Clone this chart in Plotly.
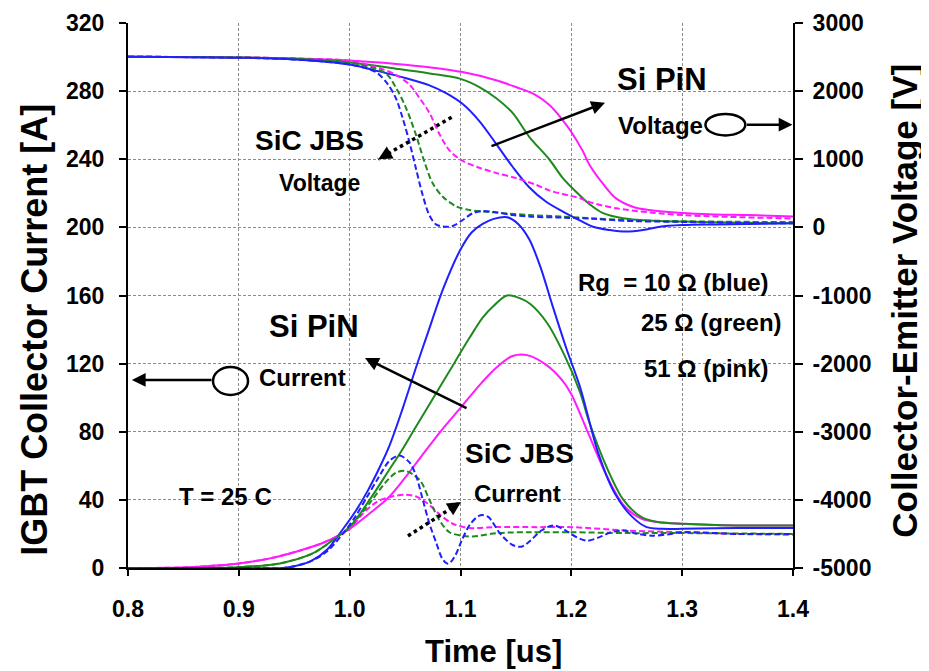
import plotly.graph_objects as go

# ---------------- data ----------------
# IGBT collector current [A] (left axis) - Si PiN (solid)
t_i_blue = [0.80, 0.90, 0.94, 0.95, 0.965, 0.98, 0.993, 1.005, 1.016, 1.027, 1.036, 1.048, 1.06, 1.07, 1.085, 1.10, 1.11, 1.12, 1.13, 1.142, 1.152, 1.162, 1.172, 1.184, 1.196, 1.208, 1.224, 1.239, 1.255, 1.268, 1.282, 1.30, 1.35, 1.40]
i_blue = [0, 0, 0, 1, 4, 11, 22, 33, 45, 59, 72, 94, 118, 137, 165, 187, 197, 202, 205, 206, 202, 193, 177, 152, 128, 106, 68, 44, 30, 24, 23, 23, 23.5, 23.5]

t_i_green = [0.80, 0.90, 0.937, 0.967, 0.988, 1.00, 1.018, 1.036, 1.046, 1.058, 1.07, 1.083, 1.095, 1.108, 1.12, 1.13, 1.142, 1.155, 1.163, 1.178, 1.193, 1.208, 1.216, 1.232, 1.247, 1.263, 1.278, 1.30, 1.35, 1.40]
i_green = [0, 0.5, 2.7, 8.7, 18, 24, 40, 58, 68, 81, 94, 108, 121, 135, 147, 154, 160, 158, 155, 144, 126, 103, 86, 59, 40, 30, 27, 26, 25, 25]

t_i_pink = [0.80, 0.85, 0.87, 0.90, 0.927, 0.954, 0.975, 0.988, 1.00, 1.018, 1.036, 1.05, 1.064, 1.083, 1.10, 1.118, 1.133, 1.147, 1.16, 1.178, 1.192, 1.20, 1.216, 1.232, 1.247, 1.263, 1.278, 1.30, 1.35, 1.40]
i_pink = [0, 0.3, 1, 2.7, 5.5, 10, 14.5, 18.4, 23, 32, 42, 53, 65, 81, 94, 108, 118, 124.5, 125, 119, 110, 102, 78, 54, 37, 29, 27, 26, 25, 25]

# SiC JBS (dashed)
t_i_blue_d = [0.80, 0.90, 0.94, 0.95, 0.965, 0.98, 0.995, 1.005, 1.015, 1.025, 1.036, 1.045, 1.054, 1.060, 1.066, 1.072, 1.078, 1.084, 1.089, 1.095, 1.101, 1.109, 1.118, 1.125, 1.136, 1.147, 1.155, 1.163, 1.173, 1.184, 1.195, 1.205, 1.214, 1.225, 1.236, 1.247, 1.26, 1.274, 1.29, 1.30, 1.35, 1.40]
i_blue_d = [0, 0, 0, 1, 4, 10, 21, 30, 41, 52, 63, 66, 62, 54, 40, 26, 15, 5, 2.5, 7, 16, 26, 31, 30, 20, 13.5, 12.5, 16, 22, 25, 22, 18, 16, 18, 21, 22, 20, 19, 20, 21, 20, 20]

t_i_green_d = [0.80, 0.90, 0.937, 0.967, 0.988, 1.00, 1.018, 1.032, 1.042, 1.05, 1.057, 1.064, 1.072, 1.081, 1.09, 1.101, 1.111, 1.133, 1.163, 1.20, 1.25, 1.30, 1.40]
i_green_d = [0, 0.5, 2.7, 8.7, 18, 24, 38, 50, 56, 57, 55, 51, 40, 28, 21, 19, 18.5, 20.5, 21, 21, 20.5, 20.5, 20]

t_i_pink_d = [0.80, 0.85, 0.87, 0.90, 0.927, 0.954, 0.975, 0.988, 1.00, 1.012, 1.025, 1.038, 1.05, 1.06, 1.07, 1.082, 1.093, 1.108, 1.13, 1.17, 1.20, 1.25, 1.30, 1.35, 1.40]
i_pink_d = [0, 0.3, 1, 2.7, 5.5, 10, 14.5, 18.4, 23, 32, 39, 42, 43, 42, 38, 31, 26, 23.5, 24, 24, 24, 22, 21, 20, 19.5]

# Collector-emitter voltage [V] (right axis) - Si PiN (solid)
t_v_blue = [0.80, 0.90, 0.95, 1.00, 1.0265, 1.051, 1.072, 1.087, 1.102, 1.117, 1.132, 1.147, 1.162, 1.177, 1.192, 1.2045, 1.2195, 1.2346, 1.2496, 1.2647, 1.2797, 1.30, 1.33, 1.40]
v_blue = [2505, 2490, 2465, 2390, 2290, 2190, 2085, 1970, 1810, 1560, 1230, 890, 590, 380, 235, 130, 10, -39, -62, -39, 10, 34, 44, 59]

t_v_green = [0.80, 0.90, 0.95, 1.00, 1.042, 1.072, 1.10, 1.117, 1.132, 1.147, 1.162, 1.18, 1.1925, 1.2045, 1.2165, 1.2286, 1.2466, 1.27, 1.30, 1.33, 1.40]
v_green = [2505, 2495, 2475, 2420, 2330, 2260, 2180, 2060, 1900, 1680, 1330, 1000, 720, 520, 340, 210, 135, 100, 85, 75, 60]

t_v_pink = [0.80, 0.90, 0.95, 1.00, 1.042, 1.072, 1.102, 1.132, 1.15, 1.166, 1.18, 1.19, 1.20, 1.21, 1.217, 1.229, 1.24, 1.256, 1.27, 1.30, 1.33, 1.36, 1.40]
v_pink = [2505, 2495, 2480, 2450, 2400, 2350, 2280, 2160, 2060, 1960, 1800, 1620, 1400, 1130, 900, 630, 430, 300, 255, 210, 190, 180, 160]

# SiC JBS (dashed)
t_v_blue_d = [0.80, 0.90, 0.95, 1.00, 1.0235, 1.034, 1.0416, 1.0477, 1.0537, 1.0597, 1.0658, 1.0718, 1.0778, 1.0854, 1.093, 1.102, 1.111, 1.12, 1.132, 1.147, 1.162, 1.192, 1.22, 1.25, 1.30, 1.35, 1.40]
v_blue_d = [2505, 2490, 2465, 2390, 2280, 2110, 1900, 1610, 1266, 872, 478, 182, 44, 10, 20, 108, 207, 241, 222, 182, 158, 143, 125, 95, 80, 65, 60]

t_v_green_d = [0.80, 0.90, 0.95, 1.00, 1.0326, 1.0416, 1.0507, 1.0597, 1.0673, 1.0748, 1.084, 1.096, 1.108, 1.12, 1.132, 1.162, 1.192, 1.22, 1.25, 1.30, 1.35, 1.40]
v_green_d = [2505, 2495, 2475, 2420, 2260, 2054, 1759, 1365, 970, 650, 450, 310, 256, 232, 217, 182, 158, 132, 108, 90, 82, 78]

t_v_pink_d = [0.80, 0.90, 0.95, 1.00, 1.02, 1.03, 1.0416, 1.0537, 1.063, 1.072, 1.081, 1.09, 1.102, 1.117, 1.132, 1.15, 1.168, 1.1805, 1.192, 1.2075, 1.2165, 1.2406, 1.2707, 1.3008, 1.3308, 1.40]
v_pink_d = [2505, 2495, 2480, 2445, 2370, 2320, 2240, 2100, 1900, 1680, 1370, 1130, 975, 875, 800, 724, 626, 540, 490, 429, 370, 280, 220, 181, 160, 130]

x_ticks = [0.8, 0.9, 1.0, 1.1, 1.2, 1.3, 1.4]
x_tick_text = ["0.8", "0.9", "1.0", "1.1", "1.2", "1.3", "1.4"]
y_ticks = [0, 40, 80, 120, 160, 200, 240, 280, 320]
y2_ticks = [-5000, -4000, -3000, -2000, -1000, 0, 1000, 2000, 3000]
y2_tick_text = ["-5000", "-4000", "-3000", "-2000", "-1000", "0", "1000", "2000", "3000"]

# ---------------- style ----------------
BLUE = "#1f1fff"
GREEN = "#1e8a1e"
PINK = "#ff1aff"
FONT = "Liberation Sans, Arial, sans-serif"
DASH = "6px,3px"

fig = go.Figure()

def add(t, v, color, dashed, axis):
    fig.add_trace(go.Scatter(
        x=t, y=v, mode="lines", yaxis=axis, showlegend=False, hoverinfo="skip",
        line=dict(color=color, width=2, dash=DASH if dashed else "solid",
                  shape="spline", smoothing=0.9)))

# voltages (right axis)
add(t_v_pink, v_pink, PINK, False, "y2")
add(t_v_green, v_green, GREEN, False, "y2")
add(t_v_blue, v_blue, BLUE, False, "y2")
add(t_v_pink_d, v_pink_d, PINK, True, "y2")
add(t_v_green_d, v_green_d, GREEN, True, "y2")
add(t_v_blue_d, v_blue_d, BLUE, True, "y2")
# currents (left axis)
add(t_i_pink, i_pink, PINK, False, "y")
add(t_i_green, i_green, GREEN, False, "y")
add(t_i_blue, i_blue, BLUE, False, "y")
add(t_i_pink_d, i_pink_d, PINK, True, "y")
add(t_i_green_d, i_green_d, GREEN, True, "y")
add(t_i_blue_d, i_blue_d, BLUE, True, "y")

tickfont = dict(family=FONT, size=23, color="black", weight="bold")

# (the page adds an 8px body margin, so the plot box is set 8px up/left)
fig.update_layout(
    width=929, height=671,
    margin=dict(l=120, r=144, t=15, b=111, autoexpand=False),
    paper_bgcolor="white", plot_bgcolor="white",
    font=dict(family=FONT, color="black"),
    xaxis=dict(range=[0.8, 1.4], tickvals=x_ticks, ticktext=x_tick_text, automargin=False,
               showgrid=True, gridcolor="#8c8c8c", griddash="3px,2px", gridwidth=1,
               showline=True, linecolor="black", linewidth=2,
               ticks="outside", ticklen=6, tickcolor="black", tickwidth=1.5,
               tickfont=tickfont, ticklabelstandoff=13, zeroline=False),
    yaxis=dict(range=[0, 320], tickvals=y_ticks, automargin=False,
               showgrid=True, gridcolor="#8c8c8c", griddash="3px,2px", gridwidth=1,
               showline=True, linecolor="black", linewidth=2,
               ticks="outside", ticklen=7, tickcolor="black", tickwidth=1.5,
               tickfont=tickfont, ticklabelstandoff=10, zeroline=False),
    yaxis2=dict(range=[-5000, 3000], tickvals=y2_ticks, ticktext=y2_tick_text,
                overlaying="y", side="right", automargin=False,
                showgrid=False, showline=True, linecolor="black", linewidth=2,
                ticks="outside", ticklen=8, tickcolor="black", tickwidth=1.5,
                tickfont=tickfont, ticklabelstandoff=5, zeroline=False),
)

# ---------------- axis titles ----------------
fig.add_annotation(text="IGBT Collector Current [A]", xref="paper", yref="paper",
                   x=-0.1398, y=0.437, xanchor="center", yanchor="middle",
                   textangle=-90, showarrow=False,
                   font=dict(family=FONT, size=36, color="black", weight="bold"))
fig.add_annotation(text="Collector-Emitter Voltage [V]", xref="paper", yref="paper",
                   x=1.168, y=0.49, xanchor="center", yanchor="middle",
                   textangle=-90, showarrow=False,
                   font=dict(family=FONT, size=35, color="black", weight="bold"))
fig.add_annotation(text="Time [us]", xref="paper", yref="paper",
                   x=0.549, y=-0.154, xanchor="center", yanchor="middle", showarrow=False,
                   font=dict(family=FONT, size=31, color="black", weight="bold"))

# ---------------- in-plot labels ----------------
def label(text, x, y, size):
    fig.add_annotation(text=text, x=x, y=y, xref="x", yref="y", showarrow=False,
                       font=dict(family=FONT, size=size, color="black", weight="bold"))

label("SiC JBS", 0.964, 251.3, 28)
label("Voltage", 0.973, 226, 23)
label("Si PiN", 1.282, 286.6, 31)
label("Voltage", 1.280, 260, 24)
label("Si PiN", 0.968, 141.7, 31)
label("Current", 0.957, 111.6, 24)
label("SiC JBS", 1.153, 67.3, 28)
label("Current", 1.151, 43.9, 24)
label("Rg  = 10 \u03a9 (blue)", 1.2926, 167.9, 24)
label("25 \u03a9 (green)", 1.3264, 144, 24)
label("51 \u03a9 (pink)", 1.3215, 117.4, 24)
label("T = 25 C", 0.8884, 41.7, 24)

# ---------------- arrows & ellipses ----------------
def arrow(x0, y0, x1, y1, width=2.5):
    fig.add_annotation(x=x1, y=y1, ax=x0, ay=y0, xref="x", yref="y", axref="x", ayref="y",
                       text="", showarrow=True, arrowhead=2, arrowsize=1.1,
                       arrowwidth=width, arrowcolor="black")

def dotted_arrow(x0, y0, x1, y1):
    fig.add_shape(type="line", x0=x0, y0=y0, x1=x1, y1=y1, xref="x", yref="y",
                  line=dict(color="black", width=3.5, dash="dot"))
    fx = x1 - (x1 - x0) * 0.12
    fy = y1 - (y1 - y0) * 0.12
    arrow(fx, fy, x1, y1, width=2.5)

# Si PiN voltage arrow
arrow(1.1266, 247.4, 1.2304, 273.2)
# SiC JBS voltage dotted arrow
dotted_arrow(1.092, 264.6, 1.0258, 240.0)
# Si PiN current arrow
arrow(1.1068, 93.4, 1.0138, 123.3)
# SiC JBS current dotted arrow
dotted_arrow(1.0526, 18.8, 1.1005, 38.8)

# ellipse + arrow to right axis
fig.add_shape(type="circle", xref="x", yref="y", x0=1.321, x1=1.357, y0=254.0, y1=266.6,
              line=dict(color="black", width=2.5))
arrow(1.357, 260.3, 1.3995, 260.3)
# circle + arrow to left axis
fig.add_shape(type="circle", xref="x", yref="y", x0=0.8767, x1=0.9083, y0=101.6, y1=118.0,
              line=dict(color="black", width=2.5))
arrow(0.8767, 110.4, 0.8035, 110.4)

fig.write_html("out.html")
